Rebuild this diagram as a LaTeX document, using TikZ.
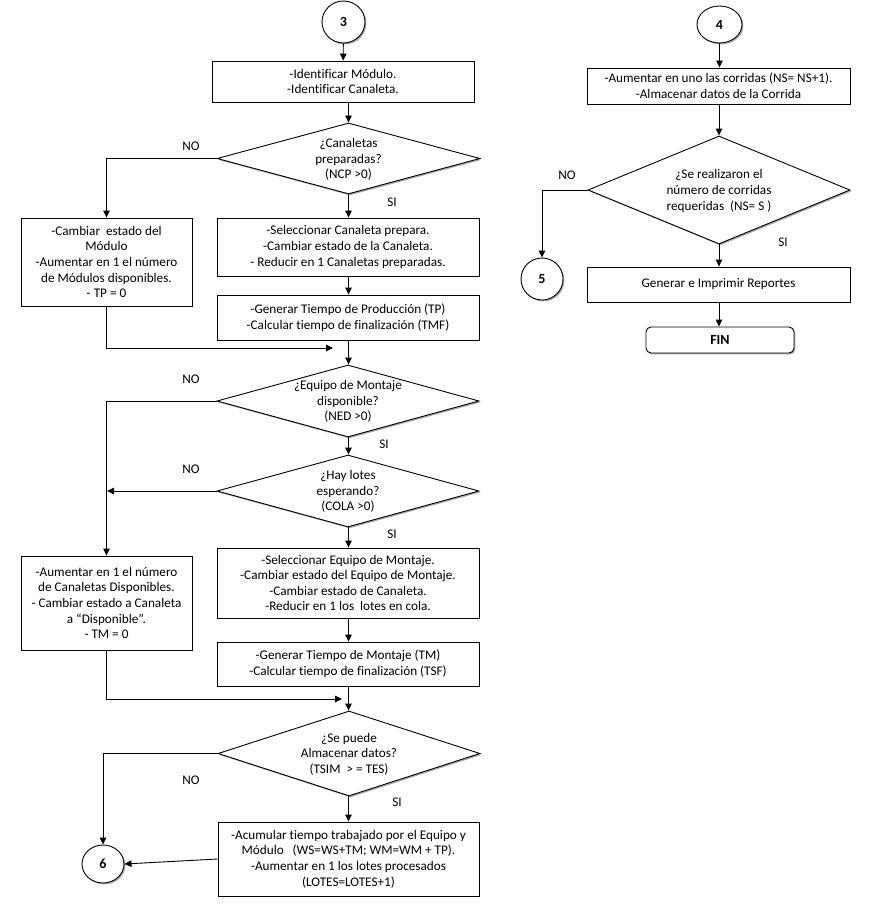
\documentclass[tikz,border=0pt]{standalone}
\usepackage{fontspec}
\setmainfont[Ligatures=CommonOff]{Carlito}
\usetikzlibrary{arrows.meta,shapes.geometric,shadows}
\begin{document}
\begin{tikzpicture}[x=1pt,y=-1pt,
  font=\fontsize{13.2}{15.6}\selectfont,
  shad/.style={drop shadow={shadow xshift=1.4pt,shadow yshift=-1.4pt,fill=black,opacity=0.35}},
  box/.style={draw=black,line width=0.9pt,fill=white,shad,align=center,inner sep=0pt},
  dec/.style={draw=black,line width=0.9pt,fill=white,shape=diamond,inner sep=0pt,shad},
  conn/.style={draw=black,line width=0.9pt,fill=white,shape=ellipse,inner sep=0pt,shad,font=\fontsize{14}{16}\selectfont\bfseries},
  txt/.style={align=center,inner sep=0pt},
  lbl/.style={inner sep=0pt},
  arr/.style={line width=0.9pt,-{Triangle[length=7pt,width=6.5pt]}},
  ln/.style={line width=0.9pt}]
\useasboundingbox (0,0) rectangle (873,905);

% left column (main)
\node[conn,minimum width=43pt,minimum height=42pt] (c3) at (343.5,22) {3};
\node[box,minimum width=262pt,minimum height=41pt] (b1) at (343,81.5) {-Identificar Módulo.\\-Identificar Canaleta.};
\node[dec,minimum width=263pt,minimum height=71pt] (d1) at (348.5,158.5) {};
\node[txt] (d1t) at (348.5,159.5) {¿Canaletas\\preparadas?\\(NCP >0)};
\node[box,minimum width=171pt,minimum height=88pt] (lb1) at (106.5,262) {-Cambiar\ \ estado del\\Módulo\\-Aumentar en 1 el número\\de Módulos disponibles.\\- TP = 0};
\node[box,minimum width=262pt,minimum height=58pt] (b2) at (348,247) {-Seleccionar Canaleta prepara.\\-Cambiar estado de la Canaleta.\\- Reducir en 1 Canaletas preparadas.};
\node[box,minimum width=262pt,minimum height=45pt] (b3) at (348,317.5) {-Generar Tiempo de Producción (TP)\\-Calcular tiempo de finalización (TMF)};
\node[dec,minimum width=262pt,minimum height=72pt] (d2) at (348,401) {};
\node[txt] (d2t) at (348,401.5) {¿Equipo de Montaje\\disponible?\\(NED >0)};
\node[dec,minimum width=262pt,minimum height=72pt] (d3) at (348,491) {};
\node[txt] (d3t) at (348,491.5) {¿Hay lotes\\esperando?\\(COLA >0)};
\node[box,minimum width=262pt,minimum height=70pt] (b4) at (348,583) {-Seleccionar Equipo de Montaje.\\-Cambiar estado del Equipo de Montaje.\\-Cambiar estado de Canaleta.\\-Reducir en 1 los\ \ lotes en cola.};
\node[box,minimum width=171pt,minimum height=94pt] (lb2) at (106.5,603) {-Aumentar en 1 el número\\de Canaletas Disponibles.\\- Cambiar estado a Canaleta\\a “Disponible”.\\- TM = 0};
\node[box,minimum width=262pt,minimum height=44pt] (b5) at (348,664) {-Generar Tiempo de Montaje (TM)\\-Calcular tiempo de finalización (TSF)};
\node[dec,minimum width=262pt,minimum height=85pt] (d4) at (349,753.5) {};
\node[txt] (d4t) at (349,754) {¿Se puede\\Almacenar datos?\\(TSIM\ \ > = TES)};
\node[box,minimum width=261pt,minimum height=74pt] (b6) at (348.5,859) {-Acumular tiempo trabajado por el Equipo y\\Módulo\ \ \ (WS=WS+TM; WM=WM + TP).\\-Aumentar en 1 los lotes procesados\\(LOTES=LOTES+1)};
\node[conn,minimum width=42pt,minimum height=38pt] (c6) at (103,864) {6};

% right column
\node[conn,minimum width=45pt,minimum height=37pt] (c4) at (719.5,24.5) {4};
\node[box,minimum width=263pt,minimum height=36pt] (b7) at (718.5,86) {-Aumentar en uno las corridas (NS= NS+1).\\-Almacenar datos de la Corrida};
\node[dec,minimum width=262pt,minimum height=108pt] (d5) at (719,190) {};
\node[txt] (d5t) at (719,191) {¿Se realizaron el\\número de corridas\\requeridas\ \ (NS= S )};
\node[conn,minimum width=42pt,minimum height=42pt] (c5) at (542,279) {5};
\node[box,minimum width=263pt,minimum height=35pt] (b8) at (718.5,284.5) {Generar e Imprimir Reportes};
\node[box,rounded corners=5pt,minimum width=148pt,minimum height=26pt,font=\fontsize{14}{16}\selectfont\bfseries] (fin) at (720,340) {FIN};

% labels
\node[lbl] (no1) at (191,146) {NO};
\node[lbl] (si1) at (392,202) {SI};
\node[lbl] (no2) at (191,379) {NO};
\node[lbl] (si2) at (384,444) {SI};
\node[lbl] (no3) at (191,469) {NO};
\node[lbl] (si3) at (392,534) {SI};
\node[lbl] (no4) at (191,780) {NO};
\node[lbl] (si4) at (397,802) {SI};
\node[lbl] (no5) at (567,175) {NO};
\node[lbl] (si5) at (783,242) {SI};

% coordinates
\coordinate (m1) at (333,348);
\coordinate (j3) at (107,491);
\coordinate (m2) at (342,699);

% connectors main
\draw[arr] (c3) -- (b1);
\draw[arr] (b1.south -| d1.north) -- (d1.north);
\draw[arr] (d1.west) -| (lb1.north);
\draw[arr] (d1.south) -- (d1.south |- b2.north);
\draw[arr] (b2.south -| d1.south) -- (d1.south |- b3.north);
\draw[arr] (lb1.south) |- (m1);
\draw[arr] (b3.south -| d1.south) -- (d1.south |- d2.north);
\draw[arr] (d2.west) -| (lb2.north);
\draw[arr] (d2.south -| d1.south) -- (d1.south |- d3.north);
\draw[arr] (d3.west) -- (j3);
\draw[arr] (d3.south -| d1.south) -- (d1.south |- b4.north);
\draw[arr] (b4.south -| d1.south) -- (d1.south |- b5.north);
\draw[arr] (lb2.south) |- (m2);
\draw[arr] (b5.south -| d1.south) -- (d1.south |- d4.north);
\draw[arr] (d4.west) -| (c6.north);
\draw[arr] (d4.south -| d1.south) -- (d1.south |- b6.north);
\draw[arr] (b6.west) -- (c6.east);

% connectors right
\draw[arr] (c4) -- (c4 |- b7.north);
\draw[arr] (b7.south -| d5.north) -- (d5.north);
\draw[arr] (d5.west) -| (c5.north);
\draw[arr] (d5.south) -- (d5.south |- b8.north);
\draw[arr] (b8.south -| d5.south) -- (d5.south |- fin.north);
\end{tikzpicture}
\end{document}
